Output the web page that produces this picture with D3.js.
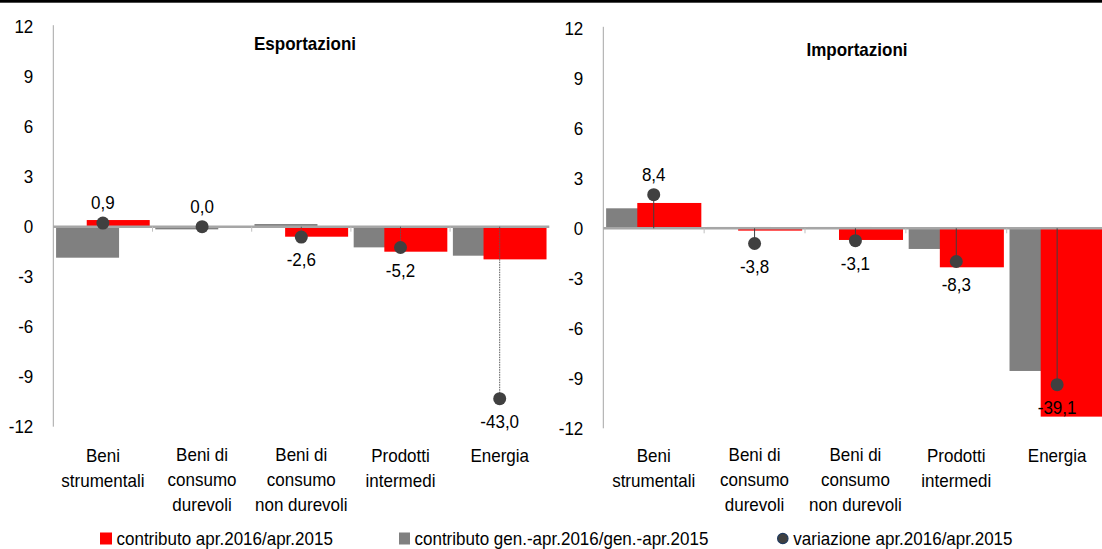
<!DOCTYPE html>
<html>
<head>
<meta charset="utf-8">
<script src="https://cdn.jsdelivr.net/npm/d3@7"></script>
<style>
  body { margin: 0; background: #fff; }
  svg text { font-family: "Liberation Sans", Arial, sans-serif; font-size: 17px; fill: #000;
    transform-box: fill-box; transform-origin: center; transform: scaleY(1.08); }
</style>
</head>
<body>
<svg id="chart" width="1102" height="549"></svg>
<script>
//Data ---------------------------------
const categories = [
  "Beni\nstrumentali",
  "Beni di\nconsumo\ndurevoli",
  "Beni di\nconsumo\nnon durevoli",
  "Prodotti\nintermedi",
  "Energia"
];
//Esportazioni
const expContribApr = [0.4, -0.02, -0.6, -1.5, -1.96];
const expContribGenApr = [-1.86, -0.16, 0.16, -1.24, -1.74];
const expVariazione = [0.9, 0.0, -2.6, -5.2, -43.0];
//Importazioni
const impContribApr = [1.52, -0.14, -0.7, -2.34, -11.3];
const impContribGenApr = [1.2, 0.08, 0.08, -1.24, -8.56];
const impVariazione = [8.4, -3.8, -3.1, -8.3, -39.1];

const yTicks = [12, 9, 6, 3, 0, -3, -6, -9, -12];
const yDomain = [-12, 12];
const dotDomain = [-50, 50]; //hidden secondary axis for the dots
const legendLabels = [
  "contributo apr.2016/apr.2015",
  "contributo gen.-apr.2016/gen.-apr.2015",
  "variazione apr.2016/apr.2015"
];

const RED = "#ff0000";
const GREY = "#808080";
const DOT = "#404040";

var svg = d3.select("#chart");
//comma decimals, plain hyphen for negatives
var fmt = (v) => d3.format(".1f")(v).replace(".", ",").replace("\u2212", "-");

//Thick rule on top
svg.append("rect").attr("x", 0).attr("y", 0).attr("width", 1102).attr("height", 2.7).attr("fill", "#000");

//Draw one panel
function drawPanel(p) {
  var g = svg.append("g");
  var x = d3.scaleBand().domain(categories).range([p.x0, p.x0 + 5 * p.bw]).padding(0);
  var y = d3.scaleLinear().domain(yDomain).range([p.yBottom, p.yTop]);
  var y2 = d3.scaleLinear().domain(dotDomain).range([p.yBottom, p.yTop]);
  var bw = x.bandwidth();
  var barW = bw * 0.635;
  var margin = bw * 0.028;

  //y axis line
  g.append("line")
    .attr("x1", p.x0).attr("x2", p.x0)
    .attr("y1", p.yTop - 1.5).attr("y2", p.yBottom)
    .attr("stroke", "#a6a6a6").attr("stroke-width", 1);

  //tick labels
  g.selectAll(".ytick")
    .data(yTicks)
    .join("text")
    .attr("class", "ytick")
    .attr("x", p.x0 - 20)
    .attr("y", (d) => y(d))
    .attr("text-anchor", "end")
    .attr("dominant-baseline", "central")
    .text((d) => d);

  //grey bars (behind)
  g.selectAll(".grey")
    .data(p.grey)
    .join("rect")
    .attr("class", "grey")
    .attr("x", (d, i) => x(categories[i]) + margin)
    .attr("width", barW)
    .attr("y", (d) => y(Math.max(0, d)))
    .attr("height", (d) => Math.abs(y(d) - y(0)))
    .attr("fill", GREY);

  //red bars
  g.selectAll(".red")
    .data(p.red)
    .join("rect")
    .attr("class", "red")
    .attr("x", (d, i) => x(categories[i]) + bw - margin - barW)
    .attr("width", barW)
    .attr("y", (d) => y(Math.max(0, d)))
    .attr("height", (d) => Math.abs(y(d) - y(0)))
    .attr("fill", RED);

  //zero line with category ticks
  g.append("line")
    .attr("x1", p.x0).attr("x2", p.x0 + 5 * bw)
    .attr("y1", y(0)).attr("y2", y(0))
    .attr("stroke", "#a6a6a6").attr("stroke-width", 2.5);
  g.selectAll(".ctick")
    .data(categories.slice(1))
    .join("line")
    .attr("class", "ctick")
    .attr("x1", (d) => x(d)).attr("x2", (d) => x(d))
    .attr("y1", y(0)).attr("y2", y(0) + 5)
    .attr("stroke", "#bfbfbf").attr("stroke-width", 1);

  //drop lines from zero to the dots
  g.selectAll(".drop")
    .data(p.dots)
    .join("line")
    .attr("class", "drop")
    .attr("x1", (d, i) => x(categories[i]) + bw / 2)
    .attr("x2", (d, i) => x(categories[i]) + bw / 2)
    .attr("y1", y(0)).attr("y2", (d) => y2(d))
    .attr("stroke", p.dropColor).attr("stroke-width", 1)
    .attr("stroke-dasharray", p.dropDash);

  //dots
  g.selectAll(".dot")
    .data(p.dots)
    .join("circle")
    .attr("class", "dot")
    .attr("cx", (d, i) => x(categories[i]) + bw / 2)
    .attr("cy", (d) => y2(d))
    .attr("r", 6.5)
    .attr("fill", DOT);

  //dot labels
  g.selectAll(".dlabel")
    .data(p.dots)
    .join("text")
    .attr("class", "dlabel")
    .attr("x", (d, i) => x(categories[i]) + bw / 2)
    .attr("y", (d) => y2(d) + (d >= 0 ? -20 : 23))
    .attr("text-anchor", "middle")
    .attr("dominant-baseline", "central")
    .text((d) => fmt(d));

  //category labels
  var cl = g.selectAll(".clabel")
    .data(categories)
    .join("text")
    .attr("class", "clabel")
    .attr("text-anchor", "middle");
  cl.selectAll("tspan")
    .data((d) => d.split("\n").map((s) => ({ s: s, c: d })))
    .join("tspan")
    .attr("x", (d) => x(d.c) + bw / 2)
    .attr("y", (d, i) => 462 + i * 23.5)
    .text((d) => d.s);

  //title
  g.append("text")
    .attr("x", p.titleX)
    .attr("y", p.titleY)
    .attr("text-anchor", "middle")
    .attr("dominant-baseline", "central")
    .attr("font-weight", "bold")
    .text(p.title);
}

drawPanel({
  x0: 53.3, bw: 99.2, yTop: 26.7, yBottom: 426.7,
  grey: expContribGenApr, red: expContribApr, dots: expVariazione,
  dropColor: "#595959", dropDash: "1.5,1",
  title: "Esportazioni", titleX: 305, titleY: 44
});
drawPanel({
  x0: 603.3, bw: 100.85, yTop: 28.3, yBottom: 428.3,
  grey: impContribGenApr, red: impContribApr, dots: impVariazione,
  dropColor: "#404040", dropDash: null,
  title: "Importazioni", titleX: 857, titleY: 50
});

//Legend ----------
var legend = svg.append("g");
legend.append("rect").attr("x", 100).attr("y", 532.5).attr("width", 12).attr("height", 12).attr("fill", RED);
legend.append("rect").attr("x", 399).attr("y", 532.5).attr("width", 11).attr("height", 12).attr("fill", GREY);
legend.append("circle").attr("cx", 782.8).attr("cy", 538.5).attr("r", 5.2)
  .attr("fill", DOT).attr("stroke", "#1f3a5f").attr("stroke-width", 1.2);
legend.selectAll(".ltext")
  .data(legendLabels)
  .join("text")
  .attr("class", "ltext")
  .attr("x", (d, i) => [116.5, 414.5, 793.3][i])
  .attr("y", 538.5)
  .attr("dominant-baseline", "central")
  .text((d) => d);
</script>
</body>
</html>
